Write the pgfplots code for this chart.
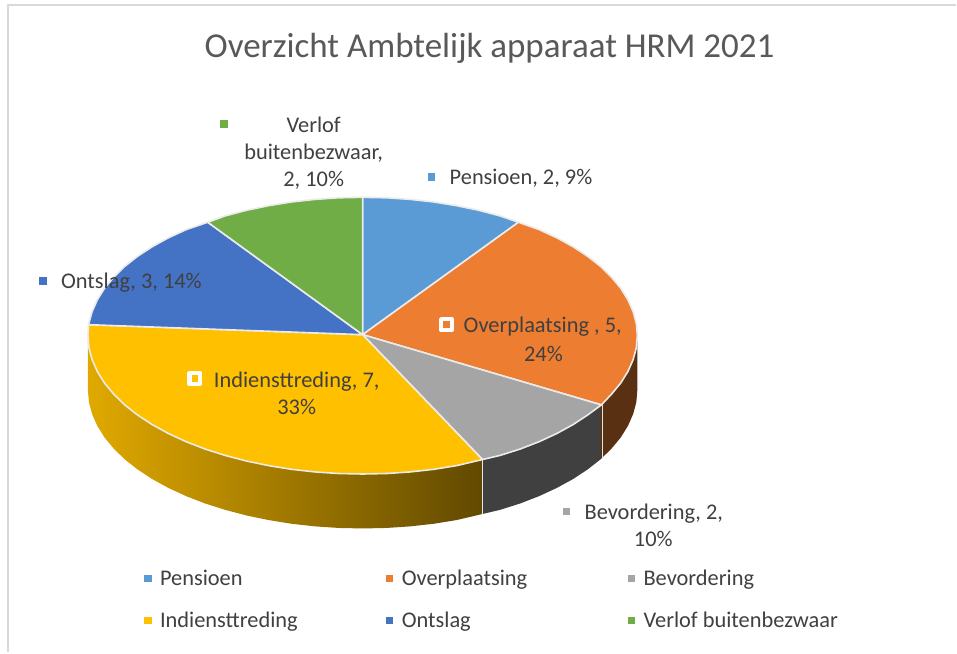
\documentclass[border=0pt]{standalone}
\usepackage{pgfplots}
\pgfplotsset{compat=1.18}
\usepackage{fontspec}
\setmainfont{Carlito}
\definecolor{cPen}{HTML}{5B9BD5}
\definecolor{cOve}{HTML}{ED7D31}
\definecolor{cBev}{HTML}{A5A5A5}
\definecolor{cInd}{HTML}{FFC000}
\definecolor{cOnt}{HTML}{4472C4}
\definecolor{cVer}{HTML}{70AD47}
\definecolor{cTxt}{HTML}{404040}
\definecolor{cTit}{HTML}{595959}
\tikzset{
  lbl/.style={text=cTxt, font=\fontsize{22.4}{26}\selectfont, anchor=base west, inner sep=0pt},
  lblc/.style={text=cTxt, font=\fontsize{22.4}{26}\selectfont, anchor=base, inner sep=0pt},
  key/.style={only marks, mark=square*, mark size=3.3pt, mark options={draw=#1, fill=#1, line width=0pt}},
}
\begin{document}
\begin{tikzpicture}
\begin{axis}[
  scale only axis, width=957pt, height=653pt,
  xmin=0, xmax=957, ymin=0, ymax=653, y dir=reverse,
  hide axis, clip=false,
  every axis plot/.append style={line join=round},
]
% page
\addplot[fill=white, draw=none] coordinates {(0,0) (957,0) (957,653) (0,653)} -- cycle;
% frame
\addplot[draw=black!15, line width=2pt] coordinates {(957,5) (8,5) (8,653)};
% sides
\addplot[draw=none, left color=cOve!38!black, right color=cOve!38!black] coordinates {
(638,336) (637,348.1) (633.8,360) (628.6,371.8) (621.4,383.4) (612.2,394.5) (601.2,405.3)
(601.2,459.8) (612.2,449) (621.4,437.9) (628.6,426.3) (633.8,414.5) (637,402.6) (638,390.5)} -- cycle;
\addplot[fill=black!75, draw=none] coordinates {
(601.2,405.3) (588.3,415.4) (573.7,425) (557.5,433.9) (539.8,442.1) (520.7,449.5) (500.5,455.9) (483,460)
(483,514.5) (500.5,510.4) (520.7,504) (539.8,496.6) (557.5,488.4) (573.7,479.5) (588.3,469.9) (601.2,459.8)} -- cycle;
\addplot[draw=none, left color=cInd!88!black, right color=cInd!38!black] coordinates {
(88,336) (89,348.1) (92.2,360) (97.4,371.8) (104.6,383.4) (113.8,394.5) (124.8,405.3) (137.7,415.4) (152.3,425) (168.5,433.9) (186.2,442.1) (205.3,449.5) (225.5,455.9) (246.8,461.5) (268.9,466.1) (291.8,469.8) (315.2,472.4) (339,474) (363,474.5) (387,474) (410.8,472.4) (434.2,469.8) (457.1,466.1) (483,460)
(483,514.5) (457.1,520.6) (434.2,524.3) (410.8,526.9) (387,528.5) (363,529) (339,528.5) (315.2,526.9) (291.8,524.3) (268.9,520.6) (246.8,516) (225.5,510.4) (205.3,504) (186.2,496.6) (168.5,488.4) (152.3,479.5) (137.7,469.9) (124.8,459.8) (113.8,449) (104.6,437.9) (97.4,426.3) (92.2,414.5) (89,402.6) (88,390.5)} -- cycle;
% side separators
\addplot[draw=white!90!black, line width=1.6pt] coordinates {(483,460) (483,514.5)};
\addplot[draw=white!90!black, line width=1.6pt] coordinates {(603,405.3) (603,459.8)};
% top slices
\addplot[fill=cPen, draw=white!92!black, line width=1.6pt] coordinates {
(363,335) (363,197.5) (387,198) (410.8,199.6) (434.2,202.2) (457.1,205.9) (479.2,210.5) (500.5,216.1) (519,222.5)} -- cycle;
\addplot[fill=cOve, draw=white!92!black, line width=1.6pt] coordinates {
(363,335) (519,222.5) (539.8,229.9) (557.5,238.1) (573.7,247) (588.3,256.6) (601.2,266.7) (612.2,277.5) (621.4,288.6) (628.6,300.2) (633.8,312) (637,323.9) (638,336) (637,348.1) (633.8,360) (628.6,371.8) (621.4,383.4) (612.2,394.5) (602,405.3)} -- cycle;
\addplot[fill=cBev, draw=white!92!black, line width=1.6pt] coordinates {
(363,335) (602,405.3) (588.3,415.4) (573.7,425) (557.5,433.9) (539.8,442.1) (520.7,449.5) (500.5,455.9) (483,460)} -- cycle;
\addplot[fill=cInd, draw=white!92!black, line width=1.6pt] coordinates {
(363,335) (483,460) (457.1,466.1) (434.2,469.8) (410.8,472.4) (387,474) (363,474.5) (339,474) (315.2,472.4) (291.8,469.8) (268.9,466.1) (246.8,461.5) (225.5,455.9) (205.3,449.5) (186.2,442.1) (168.5,433.9) (152.3,425) (137.7,415.4) (124.8,405.3) (113.8,394.5) (104.6,383.4) (97.4,371.8) (92.2,360) (89,348.1) (88,336) (88.6,325)} -- cycle;
\addplot[fill=cOnt, draw=white!92!black, line width=1.6pt] coordinates {
(363,335) (88.6,325) (92.2,312) (97.4,300.2) (104.6,288.6) (113.8,277.5) (124.8,266.7) (137.7,256.6) (152.3,247) (168.5,238.1) (186.2,229.9) (208,222.5)} -- cycle;
\addplot[fill=cVer, draw=white!92!black, line width=1.6pt] coordinates {
(363,335) (208,222.5) (225.5,216.1) (246.8,210.5) (268.9,205.9) (291.8,202.2) (315.2,199.6) (339,198) (363,197.5)} -- cycle;
% data-label keys
\addplot[key=cPen] coordinates {(432,177)};
\addplot[key=cVer] coordinates {(224,124)};
\addplot[key=cOnt] coordinates {(43,281)};
\addplot[key=cBev] coordinates {(567,512)};
\addplot[only marks, mark=square*, mark size=5.4pt, mark options={draw=white, line width=4.4pt, fill=cOve, line join=round}] coordinates {(447,325)};
\addplot[only marks, mark=square*, mark size=5.4pt, mark options={draw=white, line width=4.4pt, fill=cInd, line join=round}] coordinates {(195,379)};
% legend keys
\addplot[key=cPen] coordinates {(148,579)};
\addplot[key=cOve] coordinates {(390,579)};
\addplot[key=cBev] coordinates {(632,579)};
\addplot[key=cInd] coordinates {(148,621)};
\addplot[key=cOnt] coordinates {(390,621)};
\addplot[key=cVer] coordinates {(632,621)};
% title
\node[text=cTit, font=\fontsize{35}{40}\selectfont, anchor=base, inner sep=0pt] at (axis cs:490,58) {Overzicht Ambtelijk apparaat HRM 2021};
% data labels
\node[lblc] at (axis cs:314,133) {Verlof};
\node[lblc] at (axis cs:314,160) {buitenbezwaar,};
\node[lblc] at (axis cs:314,187) {2, 10\%};
\node[lbl] at (axis cs:450,185) {Pensioen, 2, 9\%};
\node[lbl] at (axis cs:61,289) {Ontslag, 3, 14\%};
\node[lbl] at (axis cs:464,333) {Overplaatsing , 5,};
\node[lblc] at (axis cs:544,362) {24\%};
\node[lbl] at (axis cs:214,388) {Indiensttreding, 7,};
\node[lblc] at (axis cs:297,415) {33\%};
\node[lbl] at (axis cs:585,520) {Bevordering, 2,};
\node[lblc] at (axis cs:654,547) {10\%};
% legend text
\node[lbl] at (axis cs:160,586) {Pensioen};
\node[lbl] at (axis cs:402,586) {Overplaatsing};
\node[lbl] at (axis cs:644,586) {Bevordering};
\node[lbl] at (axis cs:160,628) {Indiensttreding};
\node[lbl] at (axis cs:402,628) {Ontslag};
\node[lbl] at (axis cs:644,628) {Verlof buitenbezwaar};
\end{axis}
\end{tikzpicture}
\end{document}
